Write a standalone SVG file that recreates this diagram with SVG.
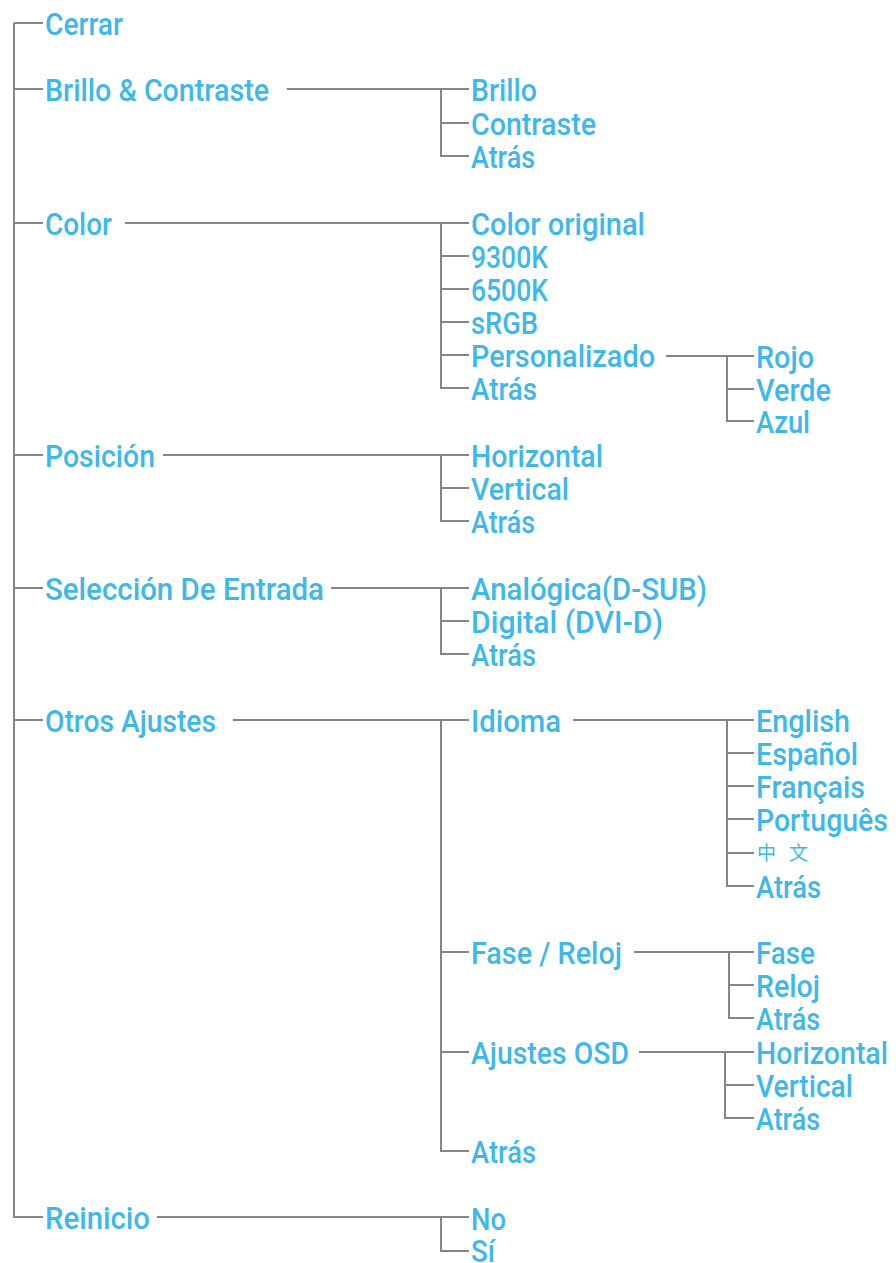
<svg xmlns="http://www.w3.org/2000/svg" width="896" height="1263" viewBox="0 0 896 1263">
<style>
.t{font-family:Roboto,"Liberation Sans",sans-serif;font-size:31px;font-weight:500;fill:#3fb8e9;}
.cjk{font-family:"Noto Sans CJK SC","Noto Sans CJK JP",sans-serif;font-size:19px;fill:#3fb8e9;}
.c{fill:none;stroke:#858585;stroke-width:2;}
</style>
<rect width="896" height="1263" fill="#ffffff"/>
<g id="connectors" class="c">
<path d="M14 23 V1217 H43"/>
<path d="M14 23 H43 M14 89 H43 M14 223 H43 M14 455 H43 M14 588 H43 M14 720 H43"/>
<path d="M287 89 H469 M441 89 V156 H469 M441 123 H469"/>
<path d="M125 223 H469 M441 223 V388 H469 M441 256 H469 M441 289 H469 M441 322 H469 M441 355 H469"/>
<path d="M666 356 H754 M727 356 V421 H754 M727 389 H754"/>
<path d="M163 455 H469 M441 455 V521 H469 M441 488 H469"/>
<path d="M331 588 H469 M441 588 V654 H469 M441 621 H469"/>
<path d="M233 720 H469 M441 720 V1151 H469 M441 952 H469 M441 1052 H469"/>
<path d="M573 720 H754 M727 720 V886 H754 M727 753 H754 M727 786 H754 M727 819 H754 M727 853 H754"/>
<path d="M634 952 H754 M729 952 V1018 H754 M729 985 H754"/>
<path d="M639 1052 H754 M725 1052 V1118 H754 M725 1085 H754"/>
<path d="M157 1217 H469 M441 1217 V1251 H469"/>
</g>
<g id="n-cerrar"><text class="t" x="45" y="34.5" textLength="78" lengthAdjust="spacingAndGlyphs">Cerrar</text></g>
<g id="n-brillo-contraste"><text class="t" x="45" y="100.5" textLength="224" lengthAdjust="spacingAndGlyphs">Brillo &amp; Contraste</text></g>
<g id="n-color"><text class="t" x="45" y="234.5" textLength="67" lengthAdjust="spacingAndGlyphs">Color</text></g>
<g id="n-posicion"><text class="t" x="45" y="466.5" textLength="110" lengthAdjust="spacingAndGlyphs">Posición</text></g>
<g id="n-seleccion"><text class="t" x="45" y="599.5" textLength="279" lengthAdjust="spacingAndGlyphs">Selección De Entrada</text></g>
<g id="n-otros"><text class="t" x="45" y="731.5" textLength="171" lengthAdjust="spacingAndGlyphs">Otros Ajustes</text></g>
<g id="n-reinicio"><text class="t" x="45" y="1228.5" textLength="105" lengthAdjust="spacingAndGlyphs">Reinicio</text></g>

<g id="n-brillo"><text class="t" x="471" y="100.5" textLength="66" lengthAdjust="spacingAndGlyphs">Brillo</text></g>
<g id="n-contraste"><text class="t" x="471" y="134.5" textLength="125" lengthAdjust="spacingAndGlyphs">Contraste</text></g>
<g id="n-atras-1"><text class="t" x="471" y="167.5" textLength="64" lengthAdjust="spacingAndGlyphs">Atrás</text></g>
<g id="n-color-original"><text class="t" x="471" y="234.5" textLength="174" lengthAdjust="spacingAndGlyphs">Color original</text></g>
<g id="n-9300k"><text class="t" x="471" y="267.5" textLength="77" lengthAdjust="spacingAndGlyphs">9300K</text></g>
<g id="n-6500k"><text class="t" x="471" y="300.5" textLength="77" lengthAdjust="spacingAndGlyphs">6500K</text></g>
<g id="n-srgb"><text class="t" x="471" y="333.5" textLength="67" lengthAdjust="spacingAndGlyphs">sRGB</text></g>
<g id="n-personalizado"><text class="t" x="471" y="366.5" textLength="184" lengthAdjust="spacingAndGlyphs">Personalizado</text></g>
<g id="n-atras-2"><text class="t" x="471" y="399.5" textLength="66" lengthAdjust="spacingAndGlyphs">Atrás</text></g>
<g id="n-horizontal-1"><text class="t" x="471" y="466.5" textLength="132" lengthAdjust="spacingAndGlyphs">Horizontal</text></g>
<g id="n-vertical-1"><text class="t" x="471" y="499.5" textLength="98" lengthAdjust="spacingAndGlyphs">Vertical</text></g>
<g id="n-atras-3"><text class="t" x="471" y="532.5" textLength="64" lengthAdjust="spacingAndGlyphs">Atrás</text></g>
<g id="n-analogica"><text class="t" x="471" y="599.5" textLength="236" lengthAdjust="spacingAndGlyphs">Analógica(D-SUB)</text></g>
<g id="n-digital"><text class="t" x="471" y="632.5" textLength="192" lengthAdjust="spacingAndGlyphs">Digital (DVI-D)</text></g>
<g id="n-atras-4"><text class="t" x="471" y="665.5" textLength="65" lengthAdjust="spacingAndGlyphs">Atrás</text></g>
<g id="n-idioma"><text class="t" x="471" y="731.5" textLength="90" lengthAdjust="spacingAndGlyphs">Idioma</text></g>
<g id="n-fase-reloj"><text class="t" x="471" y="963.5" textLength="151" lengthAdjust="spacingAndGlyphs">Fase / Reloj</text></g>
<g id="n-ajustes-osd"><text class="t" x="471" y="1063.5" textLength="158" lengthAdjust="spacingAndGlyphs">Ajustes OSD</text></g>
<g id="n-atras-5"><text class="t" x="471" y="1162.5" textLength="65" lengthAdjust="spacingAndGlyphs">Atrás</text></g>
<g id="n-no"><text class="t" x="471" y="1229.5" textLength="35" lengthAdjust="spacingAndGlyphs">No</text></g>
<g id="n-si"><text class="t" x="471" y="1262" textLength="24" lengthAdjust="spacingAndGlyphs">Sí</text></g>

<g id="n-rojo"><text class="t" x="756" y="367.5" textLength="58" lengthAdjust="spacingAndGlyphs">Rojo</text></g>
<g id="n-verde"><text class="t" x="756" y="400.5" textLength="75" lengthAdjust="spacingAndGlyphs">Verde</text></g>
<g id="n-azul"><text class="t" x="756" y="432.5" textLength="54" lengthAdjust="spacingAndGlyphs">Azul</text></g>
<g id="n-english"><text class="t" x="756" y="731.5" textLength="94" lengthAdjust="spacingAndGlyphs">English</text></g>
<g id="n-espanol"><text class="t" x="756" y="764.5" textLength="102" lengthAdjust="spacingAndGlyphs">Español</text></g>
<g id="n-francais"><text class="t" x="756" y="797.5" textLength="109" lengthAdjust="spacingAndGlyphs">Français</text></g>
<g id="n-portugues"><text class="t" x="756" y="830.5" textLength="132" lengthAdjust="spacingAndGlyphs">Português</text></g>
<g id="n-chinese"><text class="cjk" x="757" y="860" textLength="51" lengthAdjust="spacing">中文</text></g>
<g id="n-atras-6"><text class="t" x="756" y="897.5" textLength="65" lengthAdjust="spacingAndGlyphs">Atrás</text></g>
<g id="n-fase"><text class="t" x="756" y="963.5" textLength="59" lengthAdjust="spacingAndGlyphs">Fase</text></g>
<g id="n-reloj"><text class="t" x="756" y="996.5" textLength="64" lengthAdjust="spacingAndGlyphs">Reloj</text></g>
<g id="n-atras-7"><text class="t" x="756" y="1029.5" textLength="64" lengthAdjust="spacingAndGlyphs">Atrás</text></g>
<g id="n-horizontal-2"><text class="t" x="756" y="1063.5" textLength="132" lengthAdjust="spacingAndGlyphs">Horizontal</text></g>
<g id="n-vertical-2"><text class="t" x="756" y="1096.5" textLength="97" lengthAdjust="spacingAndGlyphs">Vertical</text></g>
<g id="n-atras-8"><text class="t" x="756" y="1129.5" textLength="64" lengthAdjust="spacingAndGlyphs">Atrás</text></g>
</svg>
